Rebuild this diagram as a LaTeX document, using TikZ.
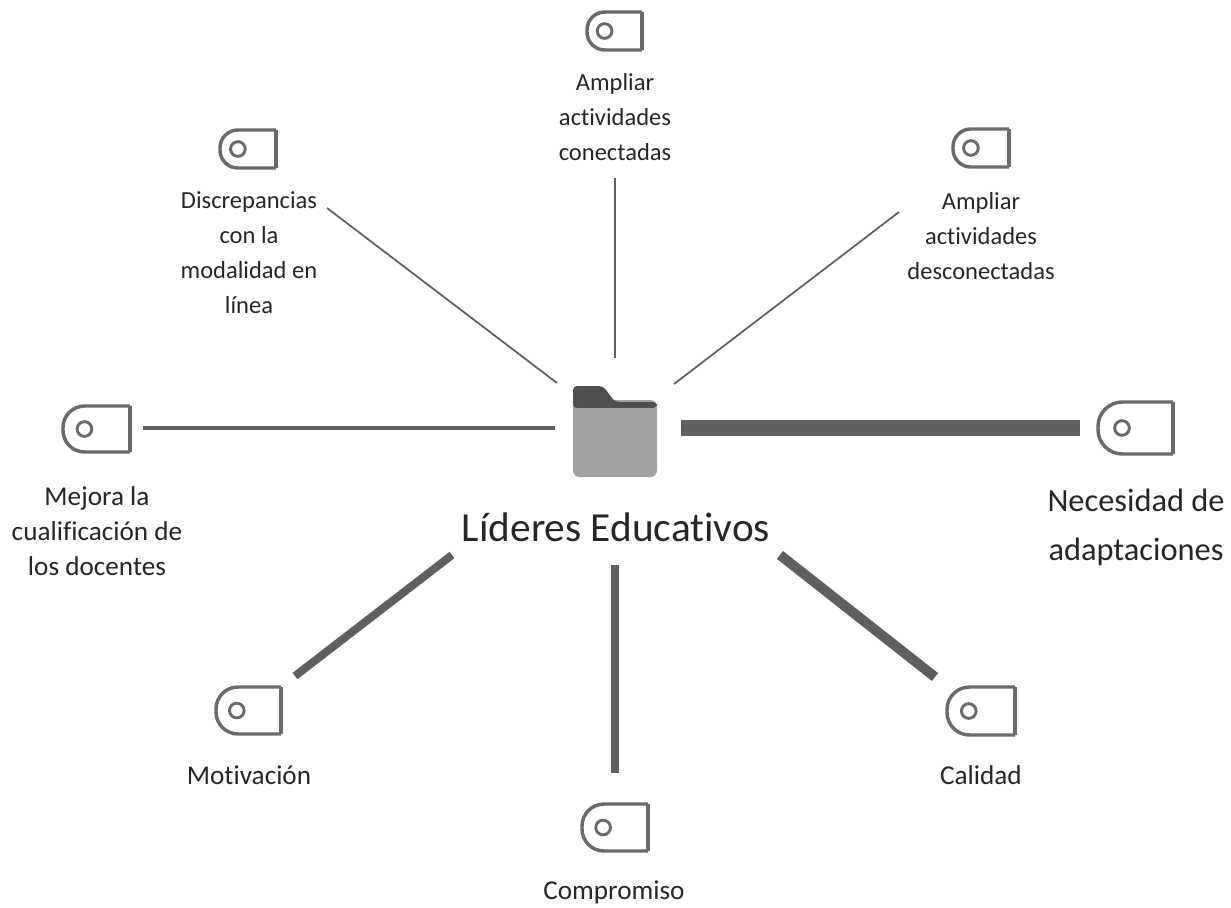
\documentclass[tikz,border=0pt]{standalone}
\usepackage{fontspec}
\setmainfont[Ligatures=NoCommon]{Carlito}
\usetikzlibrary{calc}
\definecolor{lineGray}{HTML}{5F5F5F}
\definecolor{tagGray}{HTML}{6A6A6A}
\definecolor{folderBody}{HTML}{A3A2A1}
\definecolor{folderTab}{HTML}{4F4F4F}
\tikzset{
	smallLabel/.style={align=center, inner sep=0pt, text=black!85, font=\fontsize{18.4}{26.2}\selectfont},
	lowLabel/.style={align=center, inner sep=0pt, text=black!85, font=\fontsize{20.4}{26.2}\selectfont},
	bigLabel/.style={align=center, inner sep=0pt, text=black!85, font=\fontsize{24.3}{36.7}\selectfont},
	titleLabel/.style={inner sep=0pt, text=black!85, font=\fontsize{31}{36}\selectfont},
	spoke/.style={draw=lineGray, line cap=butt},
	tagLine/.style={draw=tagGray, line width=2.6pt, line join=miter}
}
% left, top, right, bottom
\newcommand{\TagIcon}[5]{%
	\pgfmathsetmacro{\tagRad}{0.47*(#5-#3)}
	\pgfmathsetmacro{\holeX}{#2+0.32*(#4-#2)}
	\pgfmathsetmacro{\holeY}{0.5*(#3+#5)}
	\draw[tagLine, rounded corners=\tagRad*0.75pt] (#4,#3) -- (#2,#3) -- (#2,#5) -- (#4,#5);
	\draw[tagLine] (#4,#3) -- (#4,#5);
	\node[circle, draw=tagGray, line width=2.2pt, inner sep=0pt, minimum size=11pt] (#1) at (\holeX,\holeY) {};
}
\begin{document}
\begin{tikzpicture}[x=0.75pt, y=-0.75pt]
\useasboundingbox (0,0) rectangle (1231,907);

% Draw folder
\fill[folderBody, rounded corners=5pt] (573,400) -- (657,400) -- (657,477) -- (573,477) -- cycle;
\fill[folderTab, rounded corners=3pt] (573,408) -- (573,386) -- (603,386) -- (615,402) -- (657,402) -- (657,408) -- cycle;
\fill[folderBody] (573,408) rectangle (657,416);
\coordinate (folder) at (615,431);

% Draw tags
\TagIcon{tagTop}{587}{12}{642}{50}
\TagIcon{tagDisc}{220}{130}{276}{168}
\TagIcon{tagDesc}{953}{129}{1009}{167}
\TagIcon{tagMejora}{63}{406}{130}{452}
\TagIcon{tagNeces}{1098}{402}{1173}{454}
\TagIcon{tagMotiv}{216}{687}{281}{734}
\TagIcon{tagCompr}{582}{804}{648}{851}
\TagIcon{tagCalid}{947}{687}{1015}{735}

% Draw labels
\node[titleLabel] (title) at (616,527) {Líderes Educativos};
\node[smallLabel] (conect) at (615,117) {Ampliar\\actividades\\conectadas};
\node[smallLabel] (discrep) at (249,253) {Discrepancias\\con la\\modalidad en\\línea};
\node[smallLabel] (desconect) at (981,236) {Ampliar\\actividades\\desconectadas};
\node[lowLabel] (mejora) at (97,531) {Mejora la\\cualificación de\\los docentes};
\node[bigLabel] (neces) at (1136,527) {Necesidad de\\adaptaciones};
\node[lowLabel] (motiv) at (249,775) {Motivación};
\node[lowLabel] (compr) at (614,892) {Compromiso};
\node[lowLabel] (calid) at (981,775) {Calidad};

% Draw spokes
\coordinate (a1) at (327,208); \coordinate (a2) at (557,383);
\coordinate (b1) at (615,178); \coordinate (b2) at (615,358);
\coordinate (c1) at (899,212); \coordinate (c2) at (674,384);
\coordinate (d1) at (143,428); \coordinate (d2) at (555,428);
\coordinate (e1) at (681,428); \coordinate (e2) at (1080,428);
\coordinate (f1) at (452,555); \coordinate (f2) at (295,676);
\coordinate (g1) at (615,565); \coordinate (g2) at (615,773);
\coordinate (h1) at (780,555); \coordinate (h2) at (935,677);
\draw[spoke, line width=1.3pt] (a1) -- (a2);
\draw[spoke, line width=1.1pt] (b1) -- (b2);
\draw[spoke, line width=1.3pt] (c1) -- (c2);
\draw[spoke, line width=2.3pt] (d1) -- (d2);
\draw[spoke, line width=11.5pt] (e1) -- (e2);
\draw[spoke, line width=6pt] (f1) -- (f2);
\draw[spoke, line width=6pt] (g1) -- (g2);
\draw[spoke, line width=7.5pt] (h1) -- (h2);
\end{tikzpicture}
\end{document}
